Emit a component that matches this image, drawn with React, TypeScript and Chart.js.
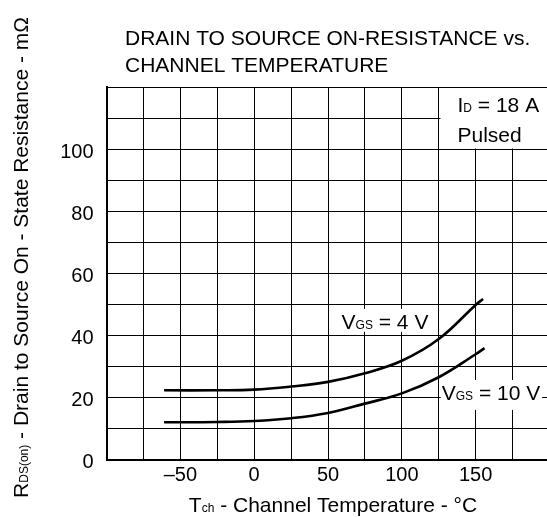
import React, { useEffect, useRef } from "react";
import { Chart, registerables } from "chart.js";

Chart.register(...registerables);

const titleLines = ["DRAIN TO SOURCE ON-RESISTANCE vs.", "CHANNEL TEMPERATURE"];
const xTickLabels = [-50, 0, 50, 100, 150];
const yTickLabels = [0, 20, 40, 60, 80, 100];

const temp4V = [-61, -25, 0, 25, 50, 75, 100, 125, 150, 155];
const rds4V = [22.3, 22.3, 22.5, 23.5, 25.0, 27.8, 31.8, 38.8, 49.8, 51.7];
const temp10V = [-61, -25, 0, 25, 50, 75, 100, 125, 150, 156];
const rds10V = [12.0, 12.1, 12.4, 13.3, 15.0, 18.0, 21.3, 26.5, 33.9, 35.9];

const FONT = '"Liberation Sans", Arial, Helvetica, sans-serif';
const MAIN = 21;
const SUB = 12;

type Seg = { t: string; sub?: boolean };

function richWidth(ctx: CanvasRenderingContext2D, segs: Seg[]) {
  let w = 0;
  for (const s of segs) {
    ctx.font = `${s.sub ? SUB : MAIN}px ${FONT}`;
    w += ctx.measureText(s.t).width;
  }
  return w;
}

function drawRich(
  ctx: CanvasRenderingContext2D,
  segs: Seg[],
  x: number,
  y: number,
  align: "left" | "center"
) {
  const w = richWidth(ctx, segs);
  let cx = align === "center" ? x - w / 2 : x;
  ctx.textBaseline = "alphabetic";
  ctx.textAlign = "left";
  ctx.fillStyle = "#000";
  for (const s of segs) {
    ctx.font = `${s.sub ? SUB : MAIN}px ${FONT}`;
    ctx.fillText(s.t, cx, y);
    cx += ctx.measureText(s.t).width;
  }
  return w;
}

const annotPlugin = {
  id: "annot",
  afterDatasetsDraw(chart: any) {
    const ctx: CanvasRenderingContext2D = chart.ctx;
    const xs = chart.scales.x;
    const ys = chart.scales.y;
    ctx.save();

    // title
    ctx.fillStyle = "#000";
    ctx.font = `${MAIN}px ${FONT}`;
    ctx.textAlign = "left";
    ctx.textBaseline = "alphabetic";
    ctx.fillText(titleLines[0], 125, 45);
    ctx.fillText(titleLines[1], 125, 71.5);

    // condition box
    const bx = Math.round(xs.getPixelForValue(125)) + 0.5;
    const by = Math.round(ys.getPixelForValue(100)) + 0.5;
    const top = chart.chartArea.top;
    ctx.fillStyle = "#fff";
    ctx.fillRect(bx + 1, top + 1, chart.chartArea.right - bx + 5, by - top - 2);
    drawRich(ctx, [{ t: "I" }, { t: "D", sub: true }, { t: " = 18 A" }], bx + 18, by - 38, "left");
    drawRich(ctx, [{ t: "Pulsed" }], bx + 18, by - 8, "left");

    // curve labels
    const l4 = [{ t: "V" }, { t: "GS", sub: true }, { t: " = 4 V" }];
    const lx4 = xs.getPixelForValue(59.2);
    const ly4 = ys.getPixelForValue(42.1);
    const w4 = richWidth(ctx, l4);
    ctx.fillStyle = "#fff";
    ctx.fillRect(lx4 - 5, ly4 - 20, w4 + 9, 23);
    drawRich(ctx, l4, lx4, ly4, "left");

    const l10 = [{ t: "V" }, { t: "GS", sub: true }, { t: " = 10 V" }];
    const lx10 = xs.getPixelForValue(127);
    const ly10 = ys.getPixelForValue(19.2);
    const w10 = richWidth(ctx, l10);
    ctx.fillStyle = "#fff";
    ctx.fillRect(lx10 - 1, ly10 - 20, w10 + 3, 30);
    drawRich(ctx, l10, lx10, ly10, "left");

    // x axis title
    drawRich(
      ctx,
      [{ t: "T" }, { t: "ch", sub: true }, { t: " - Channel Temperature - °C" }],
      333,
      512,
      "center"
    );

    // y axis title
    ctx.translate(28, 257.5);
    ctx.rotate(-Math.PI / 2);
    drawRich(
      ctx,
      [{ t: "R" }, { t: "DS(on)", sub: true }, { t: " - Drain to Source On - State Resistance - mΩ" }],
      0,
      0,
      "center"
    );
    ctx.restore();
  },
};

export default function App() {
  const ref = useRef<HTMLCanvasElement | null>(null);
  useEffect(() => {
    if (!ref.current) return;
    const chart = new Chart(ref.current, {
      type: "scatter",
      data: {
        datasets: [
          {
            label: "VGS = 4 V",
            data: temp4V.map((x, i) => ({ x, y: rds4V[i] })),
            showLine: true,
            borderColor: "#000",
            borderWidth: 2.6,
            pointRadius: 0,
            tension: 0.4,
          },
          {
            label: "VGS = 10 V",
            data: temp10V.map((x, i) => ({ x, y: rds10V[i] })),
            showLine: true,
            borderColor: "#000",
            borderWidth: 2.6,
            pointRadius: 0,
            tension: 0.4,
          },
        ],
      },
      options: {
        responsive: false,
        animation: false,
        devicePixelRatio: 1,
        layout: { padding: { top: 87, right: 10.5, left: 0, bottom: 0 } },
        plugins: { legend: { display: false }, tooltip: { enabled: false }, title: { display: false } },
        scales: {
          x: {
            type: "linear",
            min: -100,
            max: 200,
            afterFit: (s: any) => {
              s.height = 57.5;
            },
            ticks: {
              stepSize: 25,
              autoSkip: false,
              maxRotation: 0,
              padding: 4,
              color: "#000",
              font: { family: FONT, size: 20 },
              callback: (v: any) =>
                xTickLabels.includes(Number(v)) ? (Number(v) < 0 ? "\u2013" + Math.abs(Number(v)) : String(v)) : "",
            },
            grid: { color: "#000", lineWidth: 1, drawTicks: false },
            border: { color: "#000", width: 2 },
          },
          y: {
            type: "linear",
            min: 0,
            max: 120,
            afterFit: (s: any) => {
              s.width = 106.5;
            },
            ticks: {
              stepSize: 10,
              autoSkip: false,
              padding: 13,
              labelOffset: 3,
              color: "#000",
              font: { family: FONT, size: 20 },
              callback: (v: any) => (yTickLabels.includes(Number(v)) ? String(v) : ""),
            },
            grid: { color: "#000", lineWidth: 1, drawTicks: false },
            border: { color: "#000", width: 2 },
          },
        },
      },
      plugins: [annotPlugin],
    } as any);
    return () => chart.destroy();
  }, []);
  return (
    <div
      style={{
        position: "fixed",
        left: 0,
        top: 0,
        width: 547,
        height: 517,
        overflow: "hidden",
        background: "#fff",
      }}
    >
      <canvas ref={ref} width={560} height={517} style={{ display: "block" }} />
    </div>
  );
}
